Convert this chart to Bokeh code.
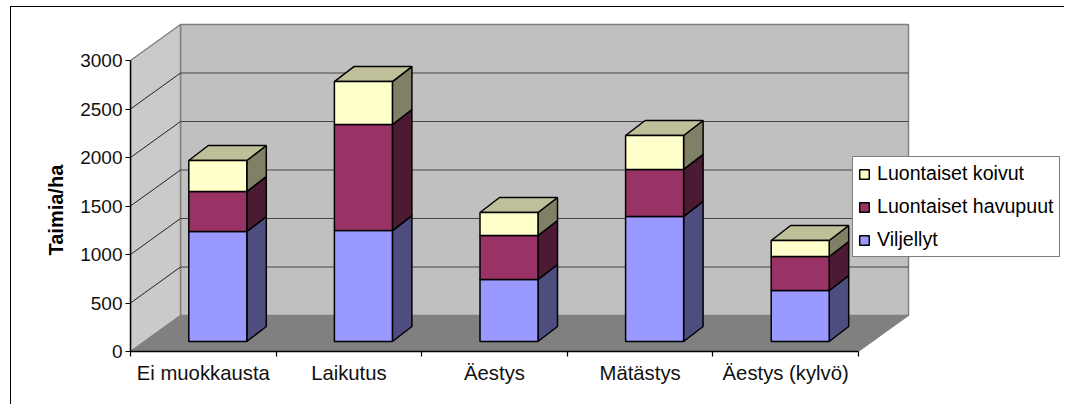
from bokeh.plotting import figure
from bokeh.models import Range1d, FixedTicker, Legend, LegendItem, Title
from bokeh.embed import file_html
from bokeh.resources import INLINE

categories = ["Ei muokkausta", "Laikutus", "Äestys", "Mätästys", "Äestys (kylvö)"]
viljellyt = [1134, 1144, 639, 1289, 526]
havupuut = [412, 1093, 454, 485, 350]
koivut = [320, 443, 237, 350, 165]
y_ticks = [0, 500, 1000, 1500, 2000, 2500, 3000]

series = [
    ("Viljellyt", viljellyt, "#9999FF", "#4D4D80", "#7373BF"),
    ("Luontaiset havupuut", havupuut, "#993366", "#4D1A33", "#732640"),
    ("Luontaiset koivut", koivut, "#FFFFCC", "#808066", "#BFBF99"),
]

PX_X = 145.6
PX_Y = 0.097
n = len(categories)
WALL_DX, WALL_DY = 50 / PX_X, 36 / PX_Y
BAR_W = 58 / PX_X
BAR_OFF_X, BAR_OFF_Y = 14.5 / PX_X, 10 / PX_Y
BAR_DX, BAR_DY = 19.5 / PX_X, 15 / PX_Y

W, H = 1054, 398
LEFT, BOTTOM = 119, 54
p = figure(width=W, height=H, output_backend="svg", toolbar_location=None,
           x_range=Range1d(0, (W - LEFT) / PX_X), y_range=Range1d(0, (H - BOTTOM) / PX_Y),
           min_border_left=LEFT, min_border_bottom=BOTTOM, min_border_right=0, min_border_top=0,
           outline_line_color=None, background_fill_color="white", border_fill_color="white")
p.styles = {"position": "absolute", "left": "10px", "top": "6px",
            "border-left": "1.5px solid #000", "border-top": "1.5px solid #000"}
p.grid.visible = False
top = y_ticks[-1]

# walls and floor
p.patch([WALL_DX, n + WALL_DX, n + WALL_DX, WALL_DX],
        [WALL_DY, WALL_DY, top + WALL_DY, top + WALL_DY],
        fill_color="#C0C0C0", line_color="#808080", line_width=1.5)
p.patch([0, WALL_DX, WALL_DX, 0], [0, WALL_DY, top + WALL_DY, top],
        fill_color="#CACACA", line_color="#808080", line_width=1.5)
p.patch([0, n, n + WALL_DX, WALL_DX], [0, 0, WALL_DY, WALL_DY],
        fill_color="#808080", line_color="#808080", line_width=1)
for t in y_ticks[1:-1]:
    p.line([0, WALL_DX], [t, t + WALL_DY], line_color="#222222", line_width=1)
    p.line([WALL_DX, n + WALL_DX], [t + WALL_DY, t + WALL_DY], line_color="#444444", line_width=1.2)

# bars
legend_renderers = {}
for i in range(n):
    x0 = i + (1 - BAR_W) / 2 + BAR_OFF_X
    x1 = x0 + BAR_W
    base = BAR_OFF_Y
    for name, vals, front, side, lid in series:
        t = base + vals[i]
        p.patch([x1, x1 + BAR_DX, x1 + BAR_DX, x1],
                [base, base + BAR_DY, t + BAR_DY, t],
                fill_color=side, line_color="black", line_width=1.5)
        p.patch([x0, x1, x1 + BAR_DX, x0 + BAR_DX],
                [t, t, t + BAR_DY, t + BAR_DY],
                fill_color=lid, line_color="black", line_width=1.5)
        r = p.quad(left=[x0], right=[x1], bottom=[base], top=[t],
                   fill_color=front, line_color="black", line_width=1.5)
        legend_renderers.setdefault(name, r)
        base = t

# axes
ya = p.yaxis[0]
ya.ticker = FixedTicker(ticks=y_ticks)
ya.bounds = (0, top)
ya.major_label_text_font = "Liberation Sans"
ya.major_label_text_font_size = "19px"
ya.major_label_text_color = "#111111"
ya.major_label_standoff = 3
ya.major_tick_in = 0
ya.major_tick_out = 5
ya.minor_tick_in = 0
ya.minor_tick_out = 0
ya.axis_line_color = "black"
ya.axis_line_width = 1.5
ya.major_tick_line_width = 1.2

# axis title sits below the middle of the frame in the reference
p.add_layout(Title(text="Taimia/ha", align="left", offset=96, standoff=22,
                   text_font="Liberation Sans", text_font_size="20px",
                   text_font_style="bold", text_color="black"), "left")

xa = p.xaxis[0]
xa.ticker = FixedTicker(ticks=[i + 0.5 for i in range(n)], minor_ticks=list(range(n + 1)))
xa.major_label_overrides = {i + 0.5: c for i, c in enumerate(categories)}
xa.bounds = (0, n)
xa.major_tick_in = 0
xa.major_tick_out = 0
xa.minor_tick_in = 0
xa.minor_tick_out = 5
xa.major_label_text_font = "Liberation Sans"
xa.major_label_text_font_size = "20.3px"
xa.major_label_text_color = "#111111"
xa.major_label_standoff = 5
xa.axis_line_color = "black"
xa.axis_line_width = 1.5
xa.minor_tick_line_width = 1.2

legend = Legend(items=[LegendItem(label=s[0], renderers=[legend_renderers[s[0]]]) for s in reversed(series)],
                location=(722, 94), orientation="vertical",
                glyph_width=12, glyph_height=12, label_standoff=7,
                padding=5, margin=0, spacing=10,
                label_text_font="Liberation Sans", label_text_font_size="19.6px",
                label_text_color="black", label_height=21, label_text_line_height=1.0,
                border_line_color="black", border_line_width=1.2,
                background_fill_color="white", background_fill_alpha=1)
p.add_layout(legend, "center")

open("out.html", "w").write(file_html(p, INLINE))
